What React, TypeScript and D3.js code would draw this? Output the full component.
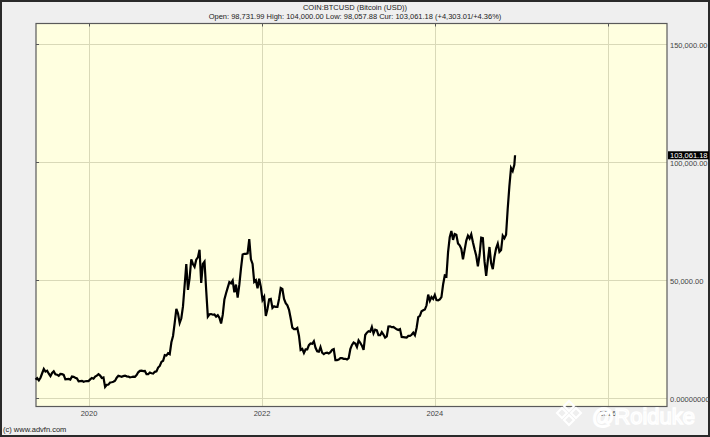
import React, { useRef, useEffect } from "react";
import * as d3 from "d3";

// weekly closes (USD), first week starts Monday 2019-05-20
const firstWeek = "2019-05-20";
const closes2019 = [
  8000, 8600, 7700, 8800, 10700, 12500, 11400, 11800, 10500, 9500, 10800,
  11500, 10300, 10100, 9600, 10400, 10300, 10000, 8100, 8200, 8300, 8000, 9300,
  9200, 8800, 8500, 7300, 7400, 7500, 7100, 7300, 7400, 7400,
];
const closes2020 = [
  8100, 8700, 8400, 9300, 9700, 10300, 9700, 8700, 8900, 4900, 5800, 5900,
  6800, 6900, 7100, 7500, 8800, 9600, 9400, 9200, 9500, 9700, 9400, 9300, 9000,
  9100, 9250, 9200, 9900, 11100, 11700, 11800, 11600, 11700, 10300, 10300,
  11000, 10700, 10600, 11300, 11500, 13100, 13800, 15500, 16000, 18400, 18200,
  19200, 18800, 23800, 26500, 32000,
];
const closes2021 = [
  38000, 36000, 32000, 34000, 39000, 48000, 57000, 46000, 51000, 59000, 57000,
  55800, 58800, 59800, 63000, 49000, 57000, 58000, 46000, 34700, 35700, 35800,
  35500, 35600, 34700, 35300, 34200, 31800, 35400, 42000, 44600, 47000, 49300,
  48800, 50000, 45000, 48300, 42700, 48100, 55000, 61000, 61300, 61300, 61500,
  67500, 59000, 57000, 49400, 50100, 46700, 50800, 47300,
];
const closes2022 = [
  41800, 43100, 35000, 37900, 42000, 42200, 38400, 39100, 38800, 38800, 42200,
  46800, 46400, 42200, 40400, 39500, 37600, 34000, 30000, 29400, 29400, 29900,
  26600, 20600, 21000, 19300, 20800, 20800, 22600, 23300, 23200, 24300, 21500,
  20000, 19800, 21800, 19400, 18800, 19300, 19400, 19100, 19600, 20600, 20900,
  16300, 16300, 16500, 17100, 17100, 16800, 16800, 16500,
];
const closes2023 = [
  17100, 20900, 22700, 23700, 23300, 21800, 24600, 23600, 22400, 20600, 26900,
  27900, 28500, 28300, 30300, 27600, 29200, 28900, 26800, 26800, 28100, 27100,
  25800, 26300, 30500, 30600, 30200, 30300, 29800, 29300, 29000, 29400, 26100,
  26000, 25900, 25800, 26500, 26500, 27000, 27900, 26800, 29900, 34500, 35000,
  37000, 37400, 37700, 39500, 44000, 41400, 43000, 42200,
];
const closes2024 = [
  43900, 41700, 41600, 42000, 43000, 48300, 52100, 51700, 62000, 68300, 71000,
  67200, 69700, 69400, 65700, 64900, 63400, 59000, 63000, 66900, 69000, 67800,
  69600, 66200, 63200, 60500, 56000, 60800, 68200, 68000, 58100, 52000, 58400,
  64200, 57300, 54800, 60000, 63600, 65600, 62100, 62900, 69000, 67900, 69400,
  80400, 89900, 97700, 96400, 99000,
];
const lastDate = "2024-12-05";
const lastClose = 103061.18;

const yTicks = [0, 50000, 100000, 150000];
const xTickYears = [2020, 2022, 2024, 2026];

const title = "COIN:BTCUSD (Bitcoin (USD))";
const subtitle =
  "Open: 98,731.99 High: 104,000.00 Low: 98,057.88 Cur: 103,061.18 (+4,303.01/+4.36%)";

const W = 710;
const H = 437;

const App: React.FC = () => {
  const ref = useRef<SVGSVGElement | null>(null);

  useEffect(() => {
    if (!ref.current) return;
    const svg = d3.select(ref.current);
    svg.selectAll("*").remove();

    const parse = d3.utcParse("%Y-%m-%d");
    const closes = [
      ...closes2019,
      ...closes2020,
      ...closes2021,
      ...closes2022,
      ...closes2023,
      ...closes2024,
    ];
    const start = parse(firstWeek)!;
    const data: [Date, number][] = closes.map((c, i) => [
      d3.utcWeek.offset(start, i),
      c,
    ]);
    data.push([parse(lastDate)!, lastClose]);

    const left = 36;
    const right = 667;
    const top = 23.5;
    const bottom = 406.5;

    const x = d3
      .scaleUtc()
      .domain([parse("2019-05-22")!, parse("2026-09-08")!])
      .range([left, right]);
    const y = d3.scaleLinear().domain([0, 150000]).range([398.5, 44.5]);

    // page background + frame
    svg
      .append("rect")
      .attr("x", 1)
      .attr("y", 1)
      .attr("width", W - 2)
      .attr("height", H - 2)
      .attr("fill", "#efefef")
      .attr("stroke", "#2a2a2a")
      .attr("stroke-width", 2);

    // plot area
    svg
      .append("rect")
      .attr("x", left)
      .attr("y", top)
      .attr("width", right - left)
      .attr("height", bottom - top)
      .attr("fill", "#ffffe0");

    const grid = svg.append("g").attr("stroke", "#d9d9b8").attr("stroke-width", 1);
    grid
      .selectAll("line.h")
      .data(yTicks)
      .join("line")
      .attr("x1", left)
      .attr("x2", right)
      .attr("y1", (d) => y(d))
      .attr("y2", (d) => y(d));
    grid
      .selectAll("line.v")
      .data(xTickYears)
      .join("line")
      .attr("x1", (d) => Math.round(x(Date.UTC(d, 0, 1))) + 0.5)
      .attr("x2", (d) => Math.round(x(Date.UTC(d, 0, 1))) + 0.5)
      .attr("y1", top)
      .attr("y2", bottom);

    // small tick marks on the frame
    const ticks = svg.append("g").attr("stroke", "#555");
    ticks
      .selectAll("line.yt")
      .data(yTicks)
      .join("line")
      .attr("x1", left)
      .attr("x2", left + 3)
      .attr("y1", (d) => y(d))
      .attr("y2", (d) => y(d));
    ticks
      .selectAll("line.xt")
      .data(xTickYears)
      .join("line")
      .attr("x1", (d) => Math.round(x(Date.UTC(d, 0, 1))) + 0.5)
      .attr("x2", (d) => Math.round(x(Date.UTC(d, 0, 1))) + 0.5)
      .attr("y1", top)
      .attr("y2", top + 3);

    svg
      .append("rect")
      .attr("x", left)
      .attr("y", top)
      .attr("width", right - left)
      .attr("height", bottom - top)
      .attr("fill", "none")
      .attr("stroke", "#5a5a5a")
      .attr("stroke-width", 1.2);

    // price line
    const line = d3
      .line<[Date, number]>()
      .x((d) => x(d[0]))
      .y((d) => y(d[1]))
      .curve(d3.curveLinear);
    svg
      .append("path")
      .datum(data)
      .attr("d", line)
      .attr("fill", "none")
      .attr("stroke", "#000")
      .attr("stroke-width", 2.2)
      .attr("stroke-linejoin", "miter");

    const font = "Liberation Sans, Arial, sans-serif";

    // y labels
    const fmt = (v: number) =>
      v === 0 ? "0.00000000" : d3.format(",.2f")(v);
    svg
      .append("g")
      .selectAll("text")
      .data(yTicks)
      .join("text")
      .attr("x", right + 3)
      .attr("y", (d) => y(d) + 3)
      .attr("font-family", font)
      .attr("font-size", 7.5)
      .attr("fill", "#444")
      .text(fmt);

    // x labels
    svg
      .append("g")
      .selectAll("text")
      .data(xTickYears)
      .join("text")
      .attr("x", (d) => x(Date.UTC(d, 0, 1)))
      .attr("y", 416)
      .attr("text-anchor", "middle")
      .attr("font-family", font)
      .attr("font-size", 7.5)
      .attr("fill", "#444")
      .text((d) => String(d));

    // current price badge
    const cy = y(lastClose);
    svg
      .append("rect")
      .attr("x", right + 1)
      .attr("y", cy - 4)
      .attr("width", W - right - 2)
      .attr("height", 8)
      .attr("fill", "#000");
    svg
      .append("text")
      .attr("x", right + 3)
      .attr("y", cy + 3)
      .attr("font-family", font)
      .attr("font-size", 7.5)
      .attr("fill", "#fff")
      .text(d3.format(",.2f")(lastClose));

    // titles
    svg
      .append("text")
      .attr("x", 355)
      .attr("y", 10)
      .attr("text-anchor", "middle")
      .attr("font-family", font)
      .attr("font-size", 7.5)
      .attr("fill", "#222")
      .text(title);
    svg
      .append("text")
      .attr("x", 355)
      .attr("y", 19)
      .attr("text-anchor", "middle")
      .attr("font-family", font)
      .attr("font-size", 7.5)
      .attr("fill", "#222")
      .text(subtitle);

    svg
      .append("text")
      .attr("x", 3)
      .attr("y", 432)
      .attr("font-family", font)
      .attr("font-size", 7.5)
      .attr("fill", "#222")
      .text("(c) www.advfn.com");

    // watermark
    const wm = svg.append("g");
    [
      [569, 406],
      [562, 413],
      [576, 413],
      [569, 420],
    ].forEach(([cx, cy2]) => {
      wm.append("path")
        .attr("d", `M${cx},${cy2 - 5} L${cx + 5},${cy2} L${cx},${cy2 + 5} L${cx - 5},${cy2} Z`)
        .attr("fill", "none")
        .attr("stroke", "#fff")
        .attr("stroke-width", 2);
    });
    wm.append("text")
      .attr("x", 592)
      .attr("y", 424)
      .attr("font-family", font)
      .attr("font-size", 22)
      .attr("fill", "#fff")
      .attr("fill-opacity", 0.35)
      .attr("stroke", "#fff")
      .attr("stroke-width", 1.4)
      .text("@Roiduke");
  }, []);

  return (
    <svg
      ref={ref}
      width={W}
      height={H}
      style={{ position: "absolute", left: 0, top: 0, display: "block" }}
    />
  );
};

export default App;
